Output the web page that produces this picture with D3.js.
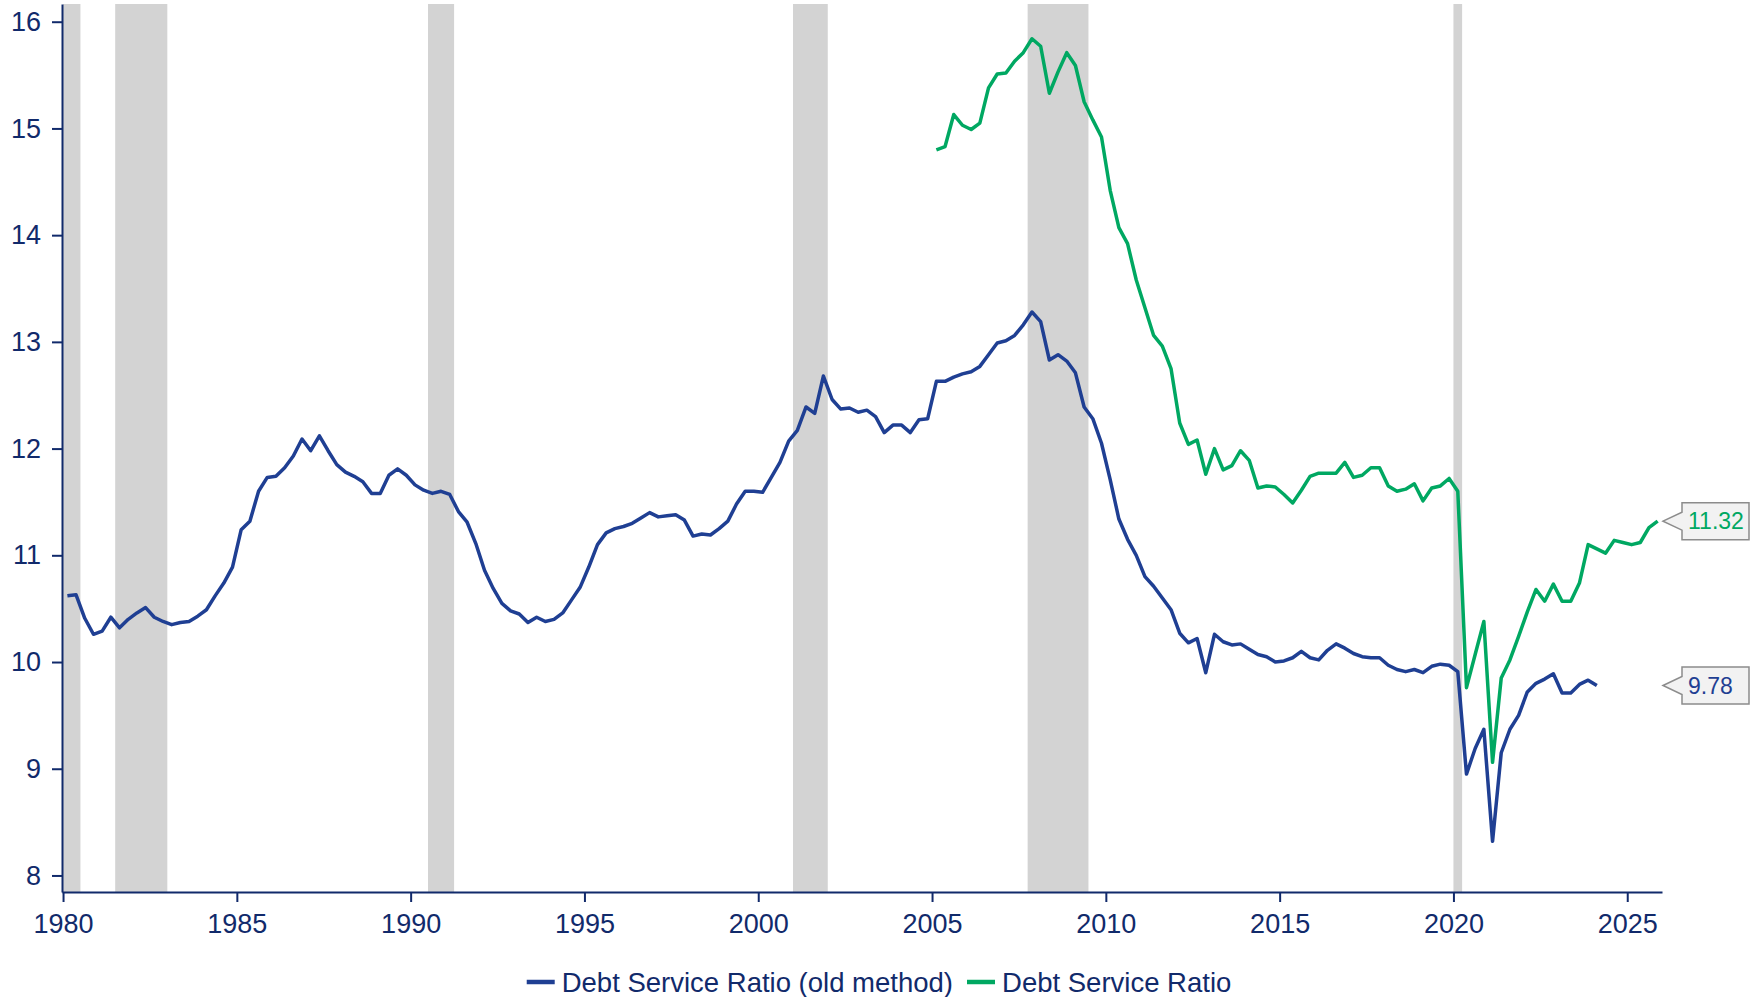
<!DOCTYPE html>
<html>
<head>
<meta charset="utf-8">
<script src="https://cdnjs.cloudflare.com/ajax/libs/d3/7.8.5/d3.min.js"></script>
<style>
    body { margin: 0; background: #fff; }
    svg { display: block; font-family: "Liberation Sans", Arial, sans-serif; }
</style>
</head>
<body>
<div id="graphContainer"></div>
<script>
//quarterly series, old method starts 1980Q1, new one 2005Q1
var oldStartYear = 1980,
    newStartYear = 2005;

var dsrOld = [
    10.62, 10.63, 10.41, 10.26, 10.29, 10.42, 10.32, 10.40, 10.46, 10.51,
    10.42, 10.38, 10.35, 10.37, 10.38, 10.43, 10.49, 10.62, 10.74, 10.89,
    11.24, 11.32, 11.60, 11.73, 11.74, 11.82, 11.93, 12.09, 11.98, 12.12,
    11.98, 11.85, 11.78, 11.74, 11.69, 11.58, 11.58, 11.75, 11.81, 11.75,
    11.66, 11.61, 11.58, 11.60, 11.57, 11.41, 11.31, 11.11, 10.86, 10.69,
    10.55, 10.48, 10.45, 10.37, 10.42, 10.38, 10.40, 10.46, 10.58, 10.70,
    10.89, 11.10, 11.21, 11.25, 11.27, 11.30, 11.35, 11.40, 11.36, 11.37,
    11.38, 11.33, 11.18, 11.20, 11.19, 11.25, 11.32, 11.48, 11.60, 11.60,
    11.59, 11.73, 11.87, 12.07, 12.17, 12.39, 12.33, 12.68, 12.46, 12.37,
    12.38, 12.34, 12.36, 12.30, 12.15, 12.22, 12.22, 12.15, 12.27, 12.28,
    12.63, 12.63, 12.67, 12.70, 12.72, 12.77, 12.88, 12.99, 13.01, 13.06,
    13.16, 13.28, 13.19, 12.83, 12.88, 12.82, 12.71, 12.39, 12.28, 12.05,
    11.71, 11.34, 11.15, 11.00, 10.80, 10.71, 10.60, 10.49, 10.27, 10.18,
    10.22, 9.90, 10.26, 10.19, 10.16, 10.17, 10.12, 10.07, 10.05, 10.00,
    10.01, 10.04, 10.10, 10.04, 10.02, 10.11, 10.17, 10.13, 10.08, 10.05,
    10.04, 10.04, 9.97, 9.93, 9.91, 9.93, 9.90, 9.96, 9.98, 9.97,
    9.91, 8.95, 9.19, 9.37, 8.32, 9.15, 9.37, 9.50, 9.72, 9.80,
    9.84, 9.89, 9.71, 9.71, 9.79, 9.83, 9.78
];

var dsrNew = [
    14.80, 14.83, 15.13, 15.03, 14.99, 15.05, 15.38, 15.51, 15.52, 15.63,
    15.71, 15.84, 15.77, 15.33, 15.53, 15.71, 15.59, 15.25, 15.08, 14.92,
    14.42, 14.07, 13.92, 13.58, 13.32, 13.06, 12.96, 12.75, 12.24, 12.04,
    12.08, 11.76, 12.00, 11.80, 11.84, 11.98, 11.89, 11.63, 11.65, 11.64,
    11.57, 11.49, 11.61, 11.74, 11.77, 11.77, 11.77, 11.87, 11.73, 11.75,
    11.82, 11.82, 11.65, 11.60, 11.62, 11.67, 11.51, 11.63, 11.65, 11.72,
    11.60, 9.76, 10.07, 10.38, 9.06, 9.85, 10.02, 10.24, 10.47, 10.68,
    10.57, 10.73, 10.57, 10.57, 10.74, 11.10, 11.06, 11.02, 11.14, 11.12,
    11.10, 11.12, 11.26, 11.32
];

//recessions as [start, end] in decimal years
var recessions = [
    [1980.0, 1980.5], [1981.5, 1983.0], [1990.5, 1991.25],
    [2001.0, 2002.0], [2007.75, 2009.5], [2020.0, 2020.25]
];

var xTicks = [1980, 1985, 1990, 1995, 2000, 2005, 2010, 2015, 2020, 2025],
    yTicks = [8, 9, 10, 11, 12, 13, 14, 15, 16];

var seriesNames = ["Debt Service Ratio (old method)", "Debt Service Ratio"],
    seriesColors = ["#1f3f93", "#00a862"];

var textColor = "#112a6b";

//turn a quarterly list into points placed mid quarter
function toPoints(values, startYear) {
    return values.map(function (v, i) {
        return {date: startYear + i / 4 + 0.125, value: v};
    });
}

var series = [toPoints(dsrOld, oldStartYear), toPoints(dsrNew, newStartYear)];

var width = 1758,
    height = 997,
    margin = {top: 4, left: 62, right: 96, bottom: 105};

var svg = d3.select("#graphContainer").append("svg")
    .attr("width", width)
    .attr("height", height);

var x = d3.scaleLinear()
    .domain([1979.97, 2026.0])
    .range([margin.left, width - margin.right]);

var y = d3.scaleLinear()
    .domain([7.845, 16.166])
    .range([height - margin.bottom, margin.top]);

//recession shading
svg.append("g").attr("class", "recessions")
    .selectAll("rect")
    .data(recessions)
    .enter().append("rect")
    .attr("x", function (d) { return x(d[0]); })
    .attr("width", function (d) { return x(d[1]) - x(d[0]); })
    .attr("y", y.range()[1])
    .attr("height", y.range()[0] - y.range()[1])
    .attr("fill", "#d3d3d3");

//axes
var xAxis = svg.append("g")
    .attr("transform", "translate(0," + y.range()[0] + ")")
    .call(d3.axisBottom(x).tickValues(xTicks).tickFormat(d3.format("d"))
        .tickSize(10).tickSizeOuter(0).tickPadding(12));

var yAxis = svg.append("g")
    .attr("transform", "translate(" + margin.left + ",0)")
    .call(d3.axisLeft(y).tickValues(yTicks).tickSize(10).tickSizeOuter(0).tickPadding(11));

[xAxis, yAxis].forEach(function (a) {
    a.selectAll("path, line").attr("stroke", textColor).attr("stroke-width", 2);
    a.selectAll("text").attr("fill", textColor).style("font-size", "27px");
});

//lines
var line = d3.line()
    .x(function (d) { return x(d.date); })
    .y(function (d) { return y(d.value); });

svg.append("g").attr("class", "lines")
    .selectAll("path")
    .data(series)
    .enter().append("path")
    .attr("d", line)
    .attr("fill", "none")
    .attr("stroke", function (d, i) { return seriesColors[i]; })
    .attr("stroke-width", 3.5)
    .attr("stroke-linejoin", "round");

//last value callouts
var tipX = x.range()[1] + 1,
    boxX = tipX + 19,
    boxW = 67,
    boxH = 37;

var callouts = svg.append("g").attr("class", "callouts")
    .selectAll("g")
    .data(series)
    .enter().append("g")
    .attr("transform", function (d) {
        return "translate(0," + y(d[d.length - 1].value) + ")";
    });

callouts.append("path")
    .attr("d", "M" + tipX + ",0L" + boxX + "," + (-9) + "V" + (-boxH / 2) + "H" + (boxX + boxW) +
        "V" + (boxH / 2) + "H" + boxX + "V9Z")
    .attr("fill", "#f2f2f2")
    .attr("stroke", "#8c8c8c")
    .attr("stroke-width", 1.5);

callouts.append("text")
    .attr("x", boxX + 6)
    .attr("y", 8)
    .attr("fill", function (d, i) { return seriesColors[i]; })
    .style("font-size", "23px")
    .text(function (d) { return d3.format(".2f")(d[d.length - 1].value); });

//legend
var legend = svg.append("g").attr("class", "legend");
var legendItems = legend.selectAll("g")
    .data(seriesNames)
    .enter().append("g");

legendItems.append("line")
    .attr("x1", 0).attr("x2", 28)
    .attr("y1", 0).attr("y2", 0)
    .attr("stroke", function (d, i) { return seriesColors[i]; })
    .attr("stroke-width", 4.5);

legendItems.append("text")
    .attr("x", 35)
    .attr("y", 9.5)
    .attr("fill", textColor)
    .style("font-size", "27.5px")
    .text(function (d) { return d; });

var offset = 0;
legendItems.each(function () {
    var w = this.getBBox().width;
    d3.select(this).attr("transform", "translate(" + offset + ",0)");
    offset += w + 14;
});
offset -= 14;
legend.attr("transform", "translate(" + (width / 2 - offset / 2) + ",982)");
</script>
</body>
</html>
